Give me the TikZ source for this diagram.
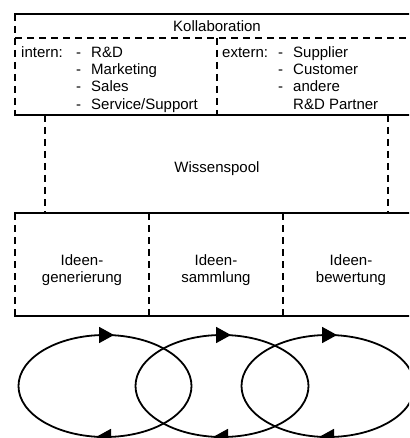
\documentclass[tikz,border=0pt]{standalone}
\usepackage{fontspec}
\setmainfont{Liberation Sans}
\usetikzlibrary{arrows.meta,decorations.markings}

\begin{document}
\begin{tikzpicture}[x=1pt,y=-1pt]
    \tikzset{
      rim/.style={line width=1.8pt,line cap=rect},
      rimdash/.style={line width=1.8pt,dash pattern=on 7pt off 5pt},
      lbl/.style={inner sep=0pt,align=center,font=\fontsize{15}{17.3}\selectfont},
      spitze/.style={-{Triangle[length=15pt,width=16pt]}},
      kreis/.style={line width=1.8pt}
    }
    \useasboundingbox (0,0) rectangle (409,438);
    \clip (0,0) rectangle (409,438);
    % Kollaboration
    \draw[rim] (15,14) -- (409,14);
    \draw[rim] (15,115) -- (409,115);
    \draw[rimdash] (15,14) -- (15,115);
    \draw[rimdash] (15,38) -- (409,38);
    \draw[rimdash] (217,38) -- (217,115);
    \node[lbl] (kollab) at (217,26) {Kollaboration};
    \node[lbl,anchor=north west] (intern) at (21,45) {\begin{tabular}{@{}p{55pt}@{}p{15pt}@{}l@{}}
      intern: & - & R\&D\\ & - & Marketing\\ & - & Sales\\ & - & Service/Support\end{tabular}};
    \node[lbl,anchor=north west] (extern) at (222,45) {\begin{tabular}{@{}p{56pt}@{}p{15pt}@{}l@{}}
      extern: & - & Supplier\\ & - & Customer\\ & - & andere\\ & & R\&D Partner\end{tabular}};
    % Wissenspool
    \draw[rimdash] (45,115) -- (45,213);
    \draw[rimdash] (388,115) -- (388,213);
    \node[lbl,anchor=base] (pool) at (217,172) {Wissenspool};
    % Ideenphasen
    \draw[rim] (15,213) -- (409,213);
    \draw[rim] (15,316) -- (409,316);
    \foreach \x in {15,149,283}
      \draw[rimdash] (\x,213) -- (\x,316);
    \node[lbl] (gen) at (82,270) {Ideen-\\generierung};
    \node[lbl] (samm) at (216,270) {Ideen-\\sammlung};
    \node[lbl] (bew) at (351,270) {Ideen-\\bewertung};
    % Kreislaeufe
    \foreach \c in {105,222,328} {
      \draw[kreis] (\c,386) ellipse [x radius=86.5,y radius=51];
      \draw[kreis,spitze] (\c-4,335) -- (\c+9,335);
      \draw[kreis,spitze] (\c+4,437) -- (\c-9,437);
    }
  \end{tikzpicture}
\end{document}
